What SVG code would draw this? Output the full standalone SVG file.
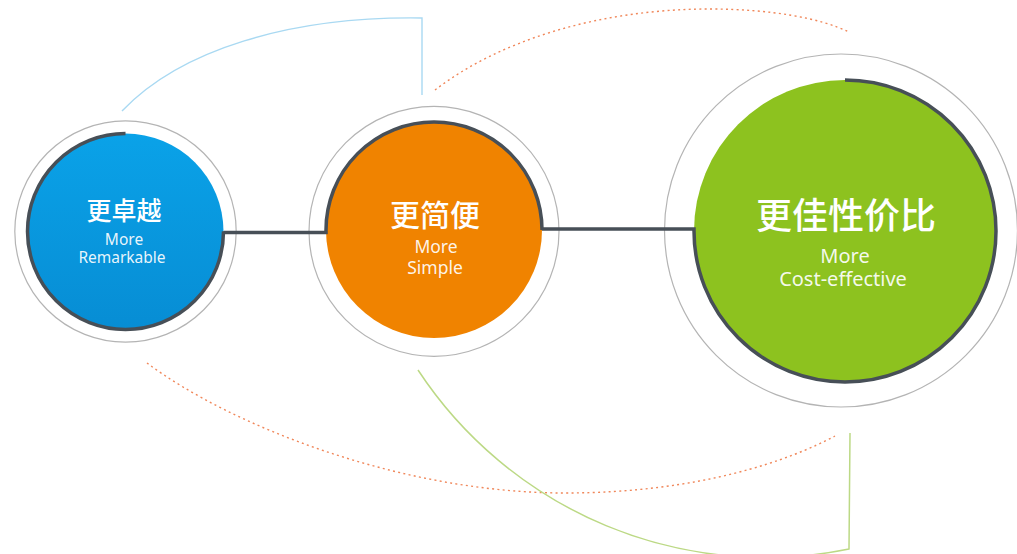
<svg xmlns="http://www.w3.org/2000/svg" width="1017" height="554" viewBox="0 0 1017 554">
  <defs>
    <linearGradient id="gBlue" x1="0" y1="0" x2="0" y2="1">
      <stop offset="0" stop-color="#0aa2e8"/>
      <stop offset="1" stop-color="#078dd4"/>
    </linearGradient>
    <style>
      .ring{fill:#fff;stroke:#b4b4b4;stroke-width:1.2}
      .dark{fill:none;stroke:#474f57;stroke-width:3.5;stroke-linejoin:miter}
      .dot{fill:none;stroke:#f0875a;stroke-width:1.4;stroke-dasharray:2 3.3}
      .lblue{fill:none;stroke:#a9d9f2;stroke-width:1.4}
      .lgreen{fill:none;stroke:#bcd985;stroke-width:1.5}
      .cn{font-family:"Noto Sans CJK SC","Noto Sans",sans-serif;font-weight:500;fill:#fff;text-anchor:middle}
      .en{font-family:"Noto Sans","Noto Sans CJK SC",sans-serif;fill:#fff;fill-opacity:0.92;text-anchor:middle}
    </style>
  </defs>

  <g id="connectors">
    <path class="lblue" d="M122,111 C180,50 290,16 422,18 L422,95"/>
    <path class="dot" d="M435,90 C500,40 600,9 710,9 C770,9 820,18 849,32"/>
    <path class="dot" d="M147,363 C230,425 400,493 565,493 C700,493 790,460 835,436"/>
    <path class="lgreen" d="M418,370 A416,416 0 0 0 849,549 L850,433"/>
  </g>

  <g id="node-remarkable">
    <circle class="ring" cx="125.5" cy="231.5" r="110.7"/>
    <circle cx="125.5" cy="231.5" r="98" fill="url(#gBlue)"/>
    <text class="cn" x="124" y="220" font-size="25" font-weight="bold">更卓越</text>
    <text class="en" x="124" y="245" font-size="15.5">More</text>
    <text class="en" x="122" y="263" font-size="15.5">Remarkable</text>
  </g>

  <g id="node-simple">
    <circle class="ring" cx="434" cy="231.3" r="125"/>
    <circle cx="434" cy="230" r="108" fill="#f08300"/>
    <text class="cn" x="435" y="226" font-size="30">更简便</text>
    <text class="en" x="436" y="253" font-size="17.5">More</text>
    <text class="en" x="435" y="274" font-size="17.5">Simple</text>
  </g>

  <g id="node-cost">
    <circle class="ring" cx="841" cy="230.5" r="176.5"/>
    <circle cx="845" cy="231" r="151" fill="#8dc21f"/>
    <text class="cn" x="846" y="229" font-size="36">更佳性价比</text>
    <text class="en" x="845" y="263" font-size="20">More</text>
    <text class="en" x="843" y="286" font-size="20">Cost-effective</text>
  </g>

  <g id="spine">
    <path class="dark" d="M125.5,133.5 A98,98 0 1 0 223.5,231.5 L224,232.5 H326 V230 A108,108 0 0 1 542,230 V229 H694 V231"/>
    <path class="dark" d="M845,80 A151,151 0 1 1 694,231"/>
  </g>
</svg>
